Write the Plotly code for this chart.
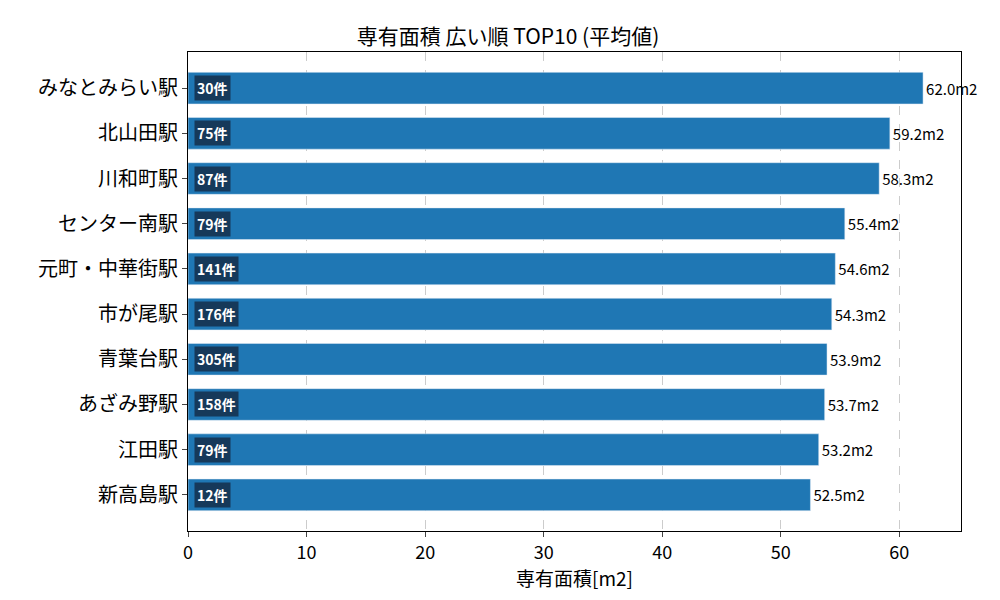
import plotly.graph_objects as go

stations = ["みなとみらい駅", "北山田駅", "川和町駅", "センター南駅", "元町・中華街駅",
            "市が尾駅", "青葉台駅", "あざみ野駅", "江田駅", "新高島駅"]
area = [62.0, 59.2, 58.3, 55.4, 54.6, 54.3, 53.9, 53.7, 53.2, 52.5]
counts = [30, 75, 87, 79, 141, 176, 305, 158, 79, 12]

FONT = "Noto Sans CJK JP"

fig = go.Figure()
fig.add_trace(go.Bar(
    x=area, y=stations, orientation="h", width=0.7,
    marker=dict(color="#1f77b4"),
    text=[f"{v:.1f}m2" for v in area], textposition="outside",
    textfont=dict(size=15, color="black"), cliponaxis=False,
))

# count badges at the left of each bar
for s, c in zip(stations, counts):
    fig.add_annotation(x=0.5, y=s, text=f"<b>{c}件</b>", showarrow=False,
                       xanchor="left", font=dict(size=14, color="white", family=FONT),
                       bgcolor="#16395a", borderpad=2)

fig.update_layout(
    width=1000, height=600, plot_bgcolor="white", paper_bgcolor="white",
    font=dict(family=FONT, color="black"),
    title=dict(text="専有面積 広い順 TOP10 (平均値)", x=0.5, xanchor="center",
               y=0.965, font=dict(size=21)),
    margin=dict(l=180, r=47, t=44, b=77),
    showlegend=False,
    xaxis=dict(range=[0, 65.2], dtick=10, showgrid=True, gridcolor="#cccccc",
               griddash="dash", zeroline=False, showline=True, linecolor="black",
               mirror=True, ticks="outside", tickfont=dict(size=18),
               title=dict(text="専有面積[m2]", font=dict(size=19), standoff=8)),
    yaxis=dict(range=[9.8, -0.8], showline=True, linecolor="black", mirror=True,
               ticks="outside", tickfont=dict(size=20), showgrid=False),
)

fig.write_html("out.html")
